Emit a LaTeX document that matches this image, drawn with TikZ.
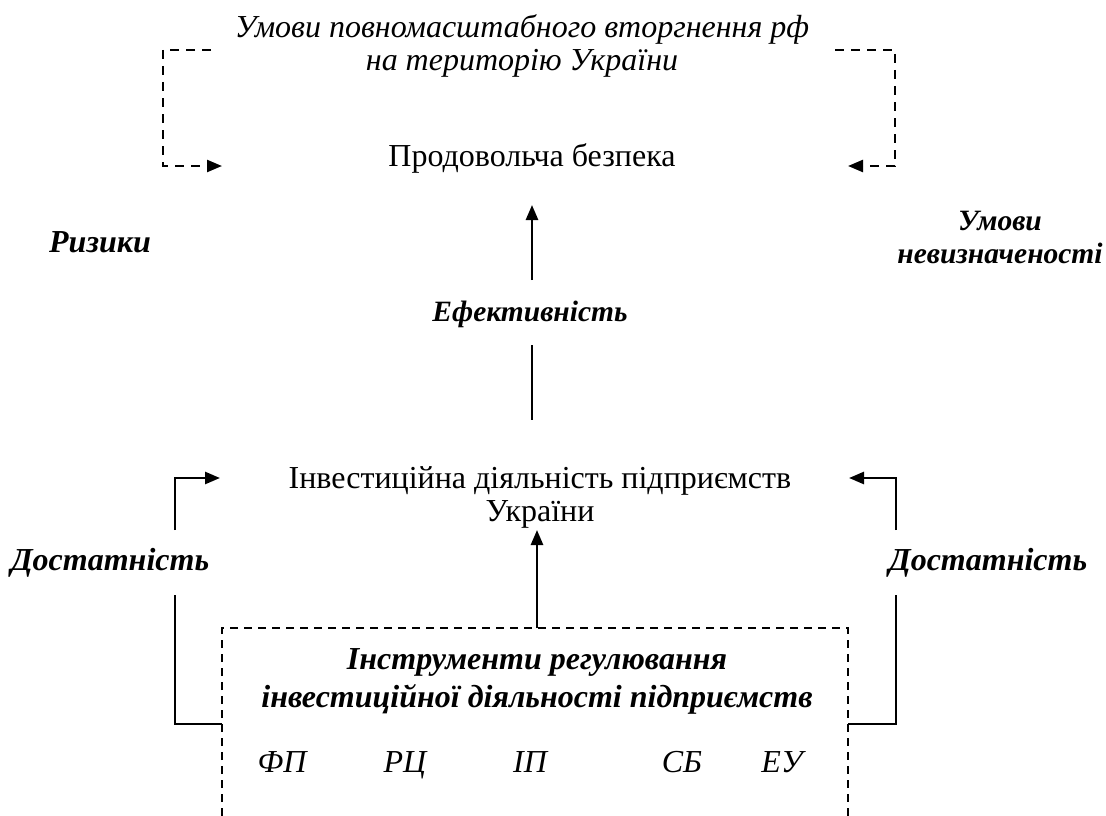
\documentclass[tikz,border=0pt]{standalone}
\usepackage{fontspec}
\setmainfont{Liberation Serif}
\usetikzlibrary{arrows.meta}
\begin{document}
\begin{tikzpicture}[x=1pt,y=-1pt,
  txt/.style={inner sep=0pt, align=center, font=\fontsize{32}{33}\selectfont},
  itxt/.style={txt, font=\fontsize{32}{33}\selectfont\itshape},
  btxt/.style={txt, font=\fontsize{32}{33}\selectfont\bfseries\itshape},
  sbtxt/.style={txt, font=\fontsize{29.5}{33}\selectfont\bfseries\itshape},
  bitxt/.style={txt, font=\fontsize{32}{38}\selectfont\bfseries\itshape},
  solidarrow/.style={line width=2.6pt, -{Triangle[length=15pt,width=12pt]}},
  solidline/.style={line width=2.6pt},
  dasharrow/.style={line width=2.3pt, dash pattern=on 9pt off 7pt, -{Triangle[length=15pt,width=12pt]}},
  boxline/.style={line width=1.7pt, dash pattern=on 8pt off 6pt}
]
\useasboundingbox (0,0) rectangle (1106,816);

% texts
\node[itxt] (cond) at (522,46) {Умови повномасштабного вторгнення рф\\на територію України};
\node[txt] (food) at (532,158) {Продовольча безпека};
\node[btxt] (risk) at (100,242) {Ризики};
\node[sbtxt] (unc) at (1000,238) {Умови\\невизначеності};
\node[sbtxt] (eff) at (530,314) {Ефективність};
\node[txt] (inv) at (540,497) {Інвестиційна діяльність підприємств\\України};
\node[btxt] (suffL) at (110,563) {Достатність};
\node[btxt] (suffR) at (988,563) {Достатність};
\node[bitxt] (instr) at (537,681) {Інструменти регулювання\\інвестиційної діяльності підприємств};
\node[itxt, anchor=base] (fp) at (282,772) {ФП};
\node[itxt, anchor=base] (rc) at (405,772) {РЦ};
\node[itxt, anchor=base] (ip) at (530,772) {ІП};
\node[itxt, anchor=base] (sb) at (682,772) {СБ};
\node[itxt, anchor=base] (eu) at (782,772) {ЕУ};

% coordinates
\coordinate (tlS) at (211,50);
\coordinate (tlE) at (222,166);
\coordinate (trS) at (835,50);
\coordinate (trE) at (848,166);
\coordinate (boxTL) at (222,628);
\coordinate (boxTR) at (848,628);
\coordinate (boxBL) at (222,816);
\coordinate (boxBR) at (848,816);
\coordinate (boxTop) at (537,628);
\coordinate (invBot) at (537,530);
\coordinate (foodBot) at (532,205);
\coordinate (effTop) at (532,280);
\coordinate (effBot) at (532,345);
\coordinate (invTop) at (532,420);
\coordinate (lUpS) at (175,530);
\coordinate (lUpE) at (220,478);
\coordinate (rUpS) at (896,530);
\coordinate (rUpE) at (849,478);
\coordinate (lLoS) at (175,595);
\coordinate (lLoE) at (222,724);
\coordinate (rLoS) at (896,595);
\coordinate (rLoE) at (848,724);

% dashed top brackets
\draw[dasharrow] (tlS) -| (163,166) -- (tlE);
\draw[dasharrow] (trS) -| (895,166) -- (trE);

% central arrows
\draw[solidarrow] (effTop) -- (foodBot);
\draw[solidline] (effBot) -- (invTop);
\draw[solidarrow] (boxTop) -- (invBot);

% side brackets
\draw[solidarrow] (lUpS) |- (lUpE);
\draw[solidarrow] (rUpS) |- (rUpE);
\draw[solidline] (lLoS) |- (lLoE);
\draw[solidline] (rLoS) |- (rLoE);

% dashed box (open at bottom)
\draw[boxline] (boxBL) -- (boxTL) -- (boxTR) -- (boxBR);
\end{tikzpicture}
\end{document}
